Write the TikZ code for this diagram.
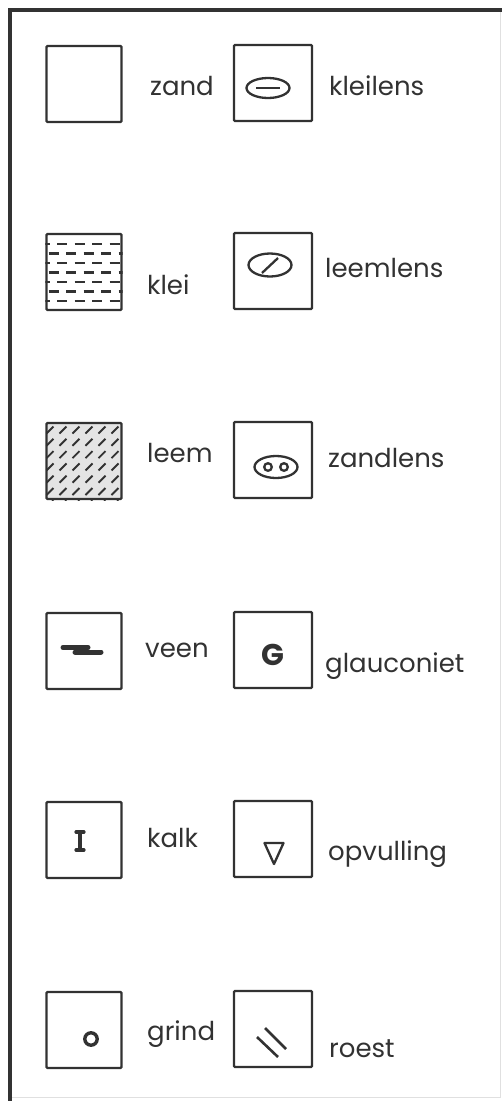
\documentclass[tikz,border=0pt]{standalone}
\usepackage{fontspec}
\setmainfont{Poppins}
\usepackage{tikz}
\definecolor{ink}{RGB}{50,50,50}
\definecolor{leemgray}{RGB}{228,228,228}
\tikzset{
  legbox/.style={draw=ink, line width=2.3pt, rounded corners=1pt, minimum width=75pt, minimum height=76pt, inner sep=0pt},
  lensbox/.style={legbox, minimum width=78pt},
  lbl/.style={anchor=base west, text=ink, inner sep=0pt, font=\fontsize{26}{30}\selectfont},
  sym/.style={draw=ink, line width=2.3pt},
}

\begin{document}
\begin{tikzpicture}[x=1pt, y=-1pt]
    \useasboundingbox (0,0) rectangle (502,1101);

    % Frame
    \draw[ink!15, line width=1pt] (500,10) -- (500,1097) -- (10,1097);
    \draw[ink, line width=4pt] (10,1101) -- (10,10) -- (502,10);

    % Boxes, left column
    \node[legbox] (zand) at (84,84) {};
    \node[legbox] (klei) at (84,272) {};
    \node[legbox, fill=leemgray] (leem) at (84,461) {};
    \node[legbox] (veen) at (84,651) {};
    \node[legbox] (kalk) at (84,840) {};
    \node[legbox] (grind) at (84,1030) {};

    % Boxes, right column
    \node[lensbox] (kleilens) at (273,83) {};
    \node[lensbox] (leemlens) at (273,271) {};
    \node[lensbox] (zandlens) at (273,460) {};
    \node[lensbox] (glauconiet) at (273,650) {};
    \node[lensbox] (opvulling) at (273,839) {};
    \node[lensbox] (roest) at (273,1029) {};

    % Labels
    \node[lbl] (zandtxt) at (150,95) {zand};
    \node[lbl] (kleitxt) at (147,294) {klei};
    \node[lbl] (leemtxt) at (147,462) {leem};
    \node[lbl] (veentxt) at (145,657) {veen};
    \node[lbl] (kalktxt) at (147,847) {kalk};
    \node[lbl] (grindtxt) at (147,1040) {grind};
    \node[lbl] (kleilenstxt) at (329,95) {kleilens};
    \node[lbl] (leemlenstxt) at (325,277) {leemlens};
    \node[lbl] (zandlenstxt) at (328,467) {zandlens};
    \node[lbl] (glauconiettxt) at (325,672) {glauconiet};
    \node[lbl] (opvullingtxt) at (328,860) {opvulling};
    \node[lbl] (roesttxt) at (329,1057) {roest};

    % Klei: rows of dashes
    \begin{scope}
        \clip (klei.north west) rectangle (klei.south east);
        \foreach \r in {0,...,6}
            \foreach \c in {-1,...,4}
                \draw[sym, line width=2.4pt] ({57+17.5*\c-8.5*mod(\r,2)},{244+9.5*\r}) -- ++(10,0);
    \end{scope}

    % Leem: short slashes
    \begin{scope}
        \clip (leem.north west) rectangle (leem.south east);
        \foreach \r in {0,...,6}
            \foreach \c in {0,...,5}
                \draw[sym, line width=1.9pt] ({50+13*\c-3.5},{430+12.3*\r+3.5}) -- ++(7,-7);
    \end{scope}

    % Veen
    \draw[sym, line width=5pt, line cap=round] (63,647.5) -- (88,647.5);
    \draw[sym, line width=5pt, line cap=round] (75,652) -- (101,652);

    % Kalk
    \draw[sym, line width=3.4pt] (80,833) -- (80,849);
    \draw[sym, line width=3.2pt, line cap=round] (76,832) -- (84,832);
    \draw[sym, line width=3.2pt, line cap=round] (76,850) -- (84,850);

    % Grind
    \draw[sym, line width=3.4pt] (91,1039) circle (6.2);

    % Kleilens
    \draw[sym] (268,88) ellipse (21.5 and 10);
    \draw[sym] (256,88) -- (280,88);

    % Leemlens
    \draw[sym] (270,265) ellipse (21.5 and 11.5);
    \draw[sym] (262,273) -- (278,258);

    % Zandlens
    \draw[sym] (276,467) ellipse (21.5 and 11);
    \draw[sym] (268,467) circle (3.8);
    \draw[sym] (284,467) circle (3.8);

    % Glauconiet
    \node[text=ink, inner sep=0pt, font=\fontsize{30}{32}\selectfont\bfseries] (G) at (273,655) {G};

    % Opvulling
    \draw[sym, line join=round] (264.5,843) -- (283.5,843) -- (274,864) -- cycle;

    % Roest
    \draw[sym, line width=2.6pt] (265,1028) -- (286,1049);
    \draw[sym, line width=2.6pt] (257,1037) -- (278,1057);
\end{tikzpicture}
\end{document}
